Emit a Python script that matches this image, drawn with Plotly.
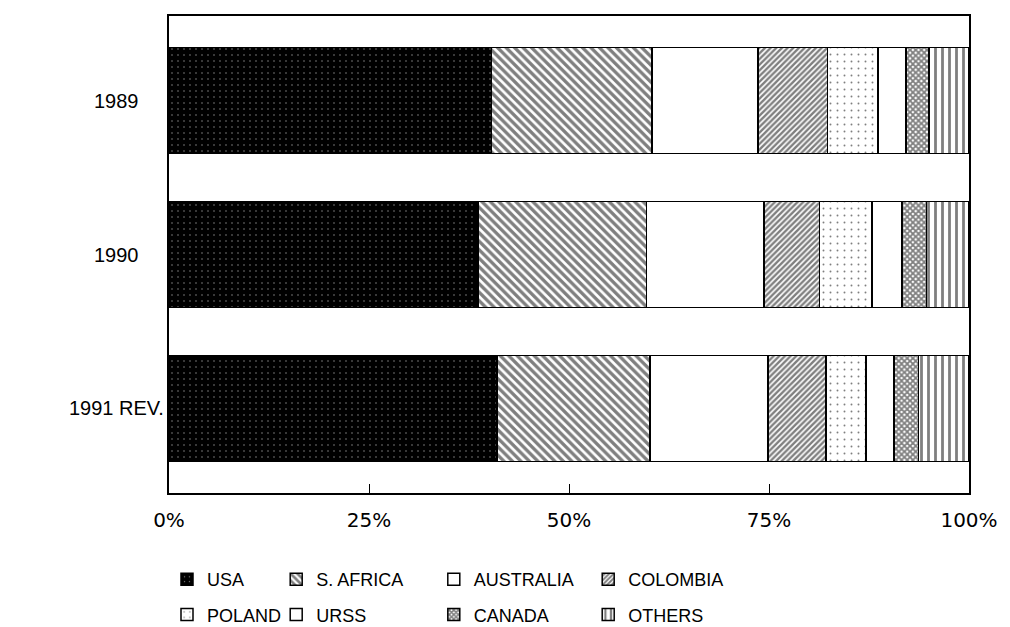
import plotly.graph_objects as go

years = ["1989", "1990", "1991 REV."]
countries = ["USA", "S. AFRICA", "AUSTRALIA", "COLOMBIA", "POLAND", "URSS", "CANADA", "OTHERS"]
usa = [40.3, 38.6, 41.0]
s_africa = [20.1, 21.1, 19.1]
australia = [13.2, 14.7, 14.8]
colombia = [8.7, 6.9, 7.2]
poland = [6.3, 6.6, 5.0]
urss = [3.5, 3.7, 3.5]
canada = [2.9, 3.1, 3.1]
others = [5.0, 5.3, 6.3]
tick_vals = [0, 25, 50, 75, 100]
tick_text = ["0%", "25%", "50%", "75%", "100%"]

series = [usa, s_africa, australia, colombia, poland, urss, canada, others]

styles = [
    dict(color="black", pattern=dict(shape=".", fgcolor="white", bgcolor="black", size=6, solidity=0.06)),
    dict(color="white", pattern=dict(shape="\\", fgcolor="black", bgcolor="white", size=6, solidity=0.55)),
    dict(color="white"),
    dict(color="white", pattern=dict(shape="/", fgcolor="black", bgcolor="white", size=4, solidity=0.6)),
    dict(color="white", pattern=dict(shape=".", fgcolor="black", bgcolor="white", size=7, solidity=0.06)),
    dict(color="white"),
    dict(color="white", pattern=dict(shape="x", fgcolor="black", bgcolor="white", size=4, solidity=0.7)),
    dict(color="white", pattern=dict(shape="|", fgcolor="black", bgcolor="white", size=7, solidity=0.4)),
]

legend_ids = ["legend", "legend2", "legend3", "legend4"]

fig = go.Figure()
for i, (name, vals, st) in enumerate(zip(countries, series, styles)):
    marker = dict(line=dict(color="black", width=1.5), **st)
    fig.add_trace(go.Bar(
        y=years, x=vals, name=name, orientation="h",
        marker=marker, width=0.69,
        legend=legend_ids[i % 4], legendgroup=name,
    ))

leg_font = dict(family="Liberation Sans", size=18, color="black")
leg_common = dict(orientation="v", xanchor="left", yanchor="top", y=-0.1426,
                  font=leg_font, tracegroupgap=9, traceorder="grouped",
                  bgcolor="rgba(0,0,0,0)")

fig.update_layout(
    width=1010, height=627,
    barmode="stack",
    paper_bgcolor="white", plot_bgcolor="white",
    margin=dict(l=161, r=49, t=8, b=142, autoexpand=False),
    font=dict(family="DejaVu Sans", size=20, color="black"),
    legend=dict(x=-0.0025, **leg_common),
    legend2=dict(x=0.134, **leg_common),
    legend3=dict(x=0.331, **leg_common),
    legend4=dict(x=0.524, **leg_common),
    xaxis=dict(range=[0, 100], tickvals=tick_vals, ticktext=tick_text,
               ticks="inside", ticklen=9, tickwidth=1.2, tickcolor="black",
               showgrid=False, zeroline=False, showline=True, mirror=True,
               linecolor="black", linewidth=1.5, ticklabelstandoff=8,
               tickfont=dict(family="DejaVu Sans", size=20)),
    yaxis=dict(type="category", categoryorder="array", categoryarray=years,
               range=[2.55, -0.55], showticklabels=False, ticks="",
               showgrid=False, zeroline=False, showline=True, mirror=True,
               linecolor="black", linewidth=1.5),
)

for idx, yr in enumerate(years):
    fig.add_annotation(x=-0.066, xref="paper", y=idx, yref="y", text=yr,
                       showarrow=False, xanchor="center",
                       font=dict(family="Liberation Sans", size=20, color="black"))

fig.write_html("out.html")
